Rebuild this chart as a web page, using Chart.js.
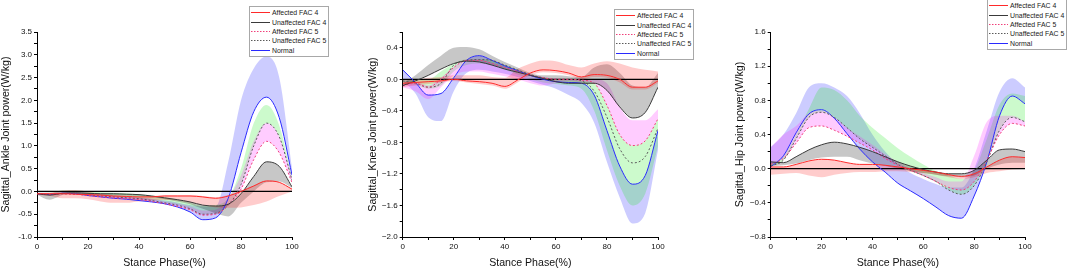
<!DOCTYPE html>
<html>
<head>
<meta charset="utf-8">
<script src="https://cdn.jsdelivr.net/npm/chart.js@4.4.0/dist/chart.umd.min.js"></script>
<style>
  body { margin: 0; background: #fff; width: 1072px; height: 271px; overflow: hidden; position: relative;
         font-family: "Liberation Sans", Arial, sans-serif; }
  canvas { position: absolute; top: 0; }
  .legend { position: absolute; background: #fff; border: 1px solid #a8a8a8; padding: 1px 2px 1px 1px;
            font-size: 6.9px; color: #222; white-space: nowrap; }
  .legend .row { display: flex; align-items: center; height: 9.4px; }
  .legend svg { display: block; margin-right: 2px; }
</style>
</head>
<body>
<canvas id="ankle" width="357" height="271" style="left:0px"></canvas>
<canvas id="knee" width="357" height="271" style="left:357px"></canvas>
<canvas id="hip" width="358" height="271" style="left:714px"></canvas>
<div id="legend-ankle" class="legend" style="left:249px; top:6px"></div>
<div id="legend-knee" class="legend" style="left:614px; top:9px"></div>
<div id="legend-hip" class="legend" style="left:987px; top:-1px"></div>
<script>
// stance phase (%) sample points
const phase = [0, 5, 10, 15, 20, 25, 30, 35, 40, 45, 50, 55, 60, 65, 70, 75, 80, 85, 90, 95, 100];
const seriesNames = ['Affected FAC 4', 'Unaffected FAC 4', 'Affected FAC 5', 'Unaffected FAC 5', 'Normal'];

// ---- ankle (W/kg) ----
const ankAff4     = [-0.05,-0.05,-0.05,-0.06,-0.07,-0.08,-0.1,-0.11,-0.12,-0.12,-0.1,-0.1,-0.1,-0.12,-0.15,-0.1,0.0,0.12,0.23,0.2,0.05];
const ankAff4Lo   = [-0.07,-0.1,-0.15,-0.15,-0.17,-0.22,-0.25,-0.25,-0.22,-0.2,-0.18,-0.2,-0.25,-0.3,-0.35,-0.36,-0.35,-0.3,-0.22,-0.1,0.0];
const ankAff4Hi   = [-0.04,-0.03,0.02,0.03,0.0,-0.05,-0.08,-0.09,-0.1,-0.1,-0.08,-0.08,-0.08,-0.1,-0.13,-0.08,0.02,0.13,0.24,0.21,0.06];
const ankUnaff4   = [-0.05,-0.08,-0.04,-0.03,-0.04,-0.05,-0.05,-0.06,-0.07,-0.1,-0.14,-0.18,-0.23,-0.3,-0.32,-0.28,-0.05,0.33,0.65,0.55,0.1];
const ankUnaff4Lo = [-0.07,-0.18,-0.08,-0.05,-0.06,-0.07,-0.08,-0.09,-0.1,-0.13,-0.17,-0.22,-0.28,-0.38,-0.48,-0.55,-0.25,0.0,0.2,0.22,0.08];
const ankAff5     = [-0.05,-0.07,-0.05,-0.06,-0.09,-0.12,-0.14,-0.16,-0.18,-0.22,-0.27,-0.33,-0.4,-0.52,-0.5,-0.3,0.05,0.7,1.1,0.85,0.2];
const ankAff5Hi   = [-0.03,-0.04,-0.02,-0.03,-0.06,-0.08,-0.1,-0.12,-0.14,-0.17,-0.22,-0.27,-0.33,-0.42,-0.4,-0.15,0.35,1.1,1.5,1.2,0.3];
const ankUnaff5   = [-0.05,-0.07,-0.05,-0.06,-0.08,-0.1,-0.12,-0.14,-0.16,-0.2,-0.25,-0.3,-0.38,-0.5,-0.48,-0.3,0.15,1.0,1.5,1.2,0.25];
const ankUnaff5Hi = [-0.03,-0.03,0.02,0.02,0.0,-0.02,-0.03,-0.04,-0.06,-0.09,-0.12,-0.17,-0.25,-0.32,-0.3,-0.15,0.5,1.5,1.9,1.45,0.3];
const ankNormal   = [-0.05,-0.07,-0.04,-0.05,-0.09,-0.12,-0.15,-0.17,-0.2,-0.23,-0.27,-0.34,-0.45,-0.62,-0.58,-0.15,0.85,1.75,2.07,1.62,0.36];
const ankNormalHi = [-0.03,-0.03,0.0,0.0,-0.03,-0.06,-0.08,-0.1,-0.13,-0.16,-0.2,-0.24,-0.3,-0.33,-0.33,0.65,2.0,2.7,2.96,2.5,0.5];

// ---- knee (W/kg) ----
const kneeAff4     = [-0.05,-0.04,-0.03,-0.02,0.0,-0.02,-0.03,-0.05,-0.09,-0.01,0.08,0.12,0.11,0.08,0.03,0.06,0.05,0.0,-0.1,-0.1,-0.02];
const kneeAff4Lo   = [-0.1,-0.08,-0.06,-0.04,-0.02,-0.04,-0.06,-0.08,-0.12,-0.04,0.05,0.09,0.08,0.05,0.0,0.03,0.02,-0.04,-0.13,-0.13,-0.05];
const kneeAff4Hi   = [0.0,0.0,0.02,0.03,0.05,0.05,0.05,0.03,0.02,0.13,0.2,0.24,0.23,0.18,0.15,0.2,0.23,0.2,0.15,0.12,0.1];
const kneeUnaff4   = [-0.08,-0.02,0.05,0.13,0.2,0.23,0.22,0.18,0.13,0.09,0.05,0.01,-0.03,-0.05,-0.05,-0.05,-0.14,-0.35,-0.49,-0.42,-0.1];
const kneeUnaff4Hi = [-0.05,0.05,0.18,0.3,0.4,0.41,0.38,0.3,0.22,0.15,0.08,0.05,0.05,0.04,0.03,0.15,0.19,0.08,-0.08,-0.1,0.08];
const kneeAff5     = [-0.08,-0.05,-0.1,0.0,0.15,0.24,0.24,0.2,0.15,0.1,0.05,0.02,0.0,0.0,-0.01,-0.05,-0.33,-0.7,-0.84,-0.78,-0.5];
const kneeAff5Lo   = [-0.1,-0.15,-0.25,-0.1,0.05,0.1,0.1,0.07,0.04,0.0,-0.05,-0.08,-0.05,-0.02,-0.03,-0.05,-0.33,-0.7,-0.84,-0.78,-0.5];
const kneeAff5Hi   = [-0.06,-0.03,-0.08,0.02,0.16,0.25,0.25,0.21,0.16,0.11,0.06,0.03,0.01,0.0,-0.01,0.0,-0.05,-0.35,-0.52,-0.52,-0.38];
const kneeUnaff5   = [-0.02,-0.05,-0.1,-0.05,0.18,0.24,0.25,0.24,0.18,0.12,0.06,0.02,0.0,0.0,-0.02,-0.15,-0.48,-0.88,-1.06,-0.98,-0.62];
const kneeUnaff5Lo = [-0.05,-0.07,-0.12,-0.08,0.1,0.18,0.2,0.18,0.12,0.06,0.0,-0.04,-0.06,-0.08,-0.12,-0.4,-0.9,-1.35,-1.6,-1.45,-0.85];
const kneeUnaff5Hi = [0.0,0.0,0.0,0.1,0.2,0.25,0.25,0.24,0.18,0.12,0.06,0.02,0.0,0.0,-0.02,-0.05,-0.33,-0.7,-0.84,-0.78,-0.5];
const kneeNormal   = [0.12,-0.04,-0.2,-0.18,0.02,0.24,0.3,0.24,0.17,0.11,0.05,0.0,-0.03,-0.04,-0.05,-0.2,-0.65,-1.1,-1.33,-1.22,-0.65];
const kneeNormalLo = [-0.02,-0.18,-0.48,-0.53,-0.15,0.08,0.12,0.1,0.07,0.03,-0.02,-0.07,-0.12,-0.2,-0.3,-0.55,-1.05,-1.5,-1.83,-1.7,-0.9];

// ---- hip (W/kg) ----
const hipAff4     = [0.02,0.02,0.05,0.09,0.11,0.1,0.07,0.05,0.05,0.04,0.02,0.0,-0.02,-0.04,-0.07,-0.09,-0.06,0.02,0.1,0.14,0.13];
const hipAff4Lo   = [-0.07,-0.06,-0.05,-0.08,-0.1,-0.07,-0.05,-0.04,-0.04,-0.03,-0.03,-0.04,-0.05,-0.07,-0.1,-0.12,-0.1,-0.05,-0.03,-0.01,0.0];
const hipUnaff4   = [0.08,0.07,0.14,0.22,0.28,0.31,0.29,0.25,0.2,0.14,0.08,0.03,-0.01,-0.04,-0.06,-0.06,-0.02,0.1,0.22,0.23,0.2];
const hipUnaff4Lo = [0.03,0.04,0.06,0.1,0.13,0.14,0.14,0.1,0.06,0.03,0.0,-0.03,-0.05,-0.07,-0.09,-0.1,-0.08,0.0,0.05,0.07,0.07];
const hipAff5     = [0.05,0.12,0.3,0.48,0.5,0.45,0.38,0.3,0.22,0.12,0.04,-0.02,-0.08,-0.15,-0.22,-0.25,-0.15,0.1,0.4,0.53,0.5];
const hipAff5Hi   = [0.25,0.4,0.5,0.65,0.68,0.6,0.48,0.38,0.28,0.17,0.08,0.0,-0.05,-0.1,-0.15,-0.15,0.15,0.55,0.62,0.62,0.55];
const hipUnaff5   = [0.03,0.1,0.35,0.6,0.66,0.6,0.48,0.35,0.25,0.15,0.05,-0.02,-0.08,-0.15,-0.25,-0.3,-0.2,0.08,0.45,0.6,0.55];
const hipUnaff5Hi = [0.05,0.15,0.4,0.7,0.95,0.92,0.8,0.62,0.48,0.36,0.24,0.14,0.05,-0.03,-0.08,-0.12,-0.02,0.35,0.75,0.88,0.85];
const hipNormal   = [0.02,0.15,0.42,0.64,0.69,0.59,0.41,0.23,0.08,-0.04,-0.17,-0.26,-0.35,-0.45,-0.55,-0.58,-0.32,0.08,0.62,0.85,0.76];
const hipNormalHi = [0.25,0.4,0.65,0.95,1.0,0.95,0.85,0.65,0.4,0.2,0.05,-0.05,-0.12,-0.18,-0.22,-0.22,0.0,0.45,0.9,1.06,0.95];

// styles
const lineColors = ['#ff2a2a', '#3a3a3a', '#f0407a', '#5a5a5a', '#2a2aff'];
const lineDashes = [[], [], [2, 2], [2, 2], []];
const bandColors = ['rgba(255,0,0,0.2)', 'rgba(0,0,0,0.22)', 'rgba(255,0,255,0.2)', 'rgba(0,230,0,0.2)', 'rgba(0,0,255,0.2)'];
const FONT = '"Liberation Sans", Arial, sans-serif';

const panels = [
  { id: 'ankle', title: 'Sagittal_Ankle Joint power(W/kg)', min: -1.0, max: 3.5, minor: 0.25, major: 0.5, minus: '-',
    pad: { left: 0, right: 65, top: 32, bottom: 0 }, yWidth: 37,
    lines: [ankAff4, ankUnaff4, ankAff5, ankUnaff5, ankNormal],
    bands: [[ankAff4Lo, ankAff4Hi], [ankUnaff4Lo, ankUnaff4], [ankAff5, ankAff5Hi], [ankUnaff5, ankUnaff5Hi], [ankNormal, ankNormalHi]] },
  { id: 'knee', title: 'Sagittal_Knee Joint power(W/kg)', min: -2.0, max: 0.6, minor: 0.2, major: 0.4, minus: '\u2212',
    pad: { left: 10, right: 56, top: 32, bottom: 0 }, yWidth: 35.7,
    lines: [kneeAff4, kneeUnaff4, kneeAff5, kneeUnaff5, kneeNormal],
    bands: [[kneeAff4Lo, kneeAff4Hi], [kneeUnaff4, kneeUnaff4Hi], [kneeAff5Lo, kneeAff5Hi], [kneeUnaff5Lo, kneeUnaff5Hi], [kneeNormalLo, kneeNormal]] },
  { id: 'hip', title: 'Sagittal_Hip Joint power(W/kg)', min: -0.8, max: 1.6, minor: 0.2, major: 0.4, minus: '\u2212',
    pad: { left: 20, right: 47, top: 32, bottom: 0 }, yWidth: 36.7,
    lines: [hipAff4, hipUnaff4, hipAff5, hipUnaff5, hipNormal],
    bands: [[hipAff4Lo, hipAff4], [hipUnaff4Lo, hipUnaff4], [hipAff5, hipAff5Hi], [hipUnaff5, hipUnaff5Hi], [hipNormal, hipNormalHi]] }
];

function pts(ys) {
  return ys.map((y, i) => ({ x: phase[i], y: y }));
}

function buildDatasets(p) {
  const ds = [];
  p.lines.forEach((ys, k) => {
    ds.push({ data: pts(ys), borderColor: lineColors[k], borderWidth: 1, borderDash: lineDashes[k],
              pointRadius: 0, fill: false, cubicInterpolationMode: 'monotone', order: 0 });
  });
  // y = 0 reference line
  ds.push({ data: phase.map(x => ({ x: x, y: 0 })), borderColor: '#000', borderWidth: 1.2,
            pointRadius: 0, fill: false, order: 1 });
  p.bands.forEach(([lo, hi], k) => {
    const loIndex = ds.length;
    ds.push({ data: pts(lo), borderColor: 'transparent', borderWidth: 0, pointRadius: 0,
              fill: false, cubicInterpolationMode: 'monotone', order: 2 });
    ds.push({ data: pts(hi), borderColor: 'transparent', borderWidth: 0, pointRadius: 0,
              backgroundColor: bandColors[k], fill: loIndex, cubicInterpolationMode: 'monotone', order: 2 });
  });
  return ds;
}

const SVGNS = 'http://www.w3.org/2000/svg';

panels.forEach(p => {
  new Chart(document.getElementById(p.id), {
    type: 'line',
    data: { datasets: buildDatasets(p) },
    options: {
      responsive: false,
      animation: false,
      devicePixelRatio: 1,
      layout: { padding: p.pad },
      plugins: { legend: { display: false }, tooltip: { enabled: false } },
      scales: {
        x: {
          type: 'linear', min: 0, max: 100,
          border: { color: '#000', width: 1 },
          grid: { drawOnChartArea: false, drawTicks: true, tickLength: 3, color: '#000' },
          ticks: { stepSize: 10, autoSkip: false, maxRotation: 0, padding: 2, color: '#111',
                   font: { size: 8, family: FONT },
                   callback: v => (Math.round(v) % 20 === 0 ? String(Math.round(v)) : '') },
          title: { display: true, text: 'Stance Phase(%)', color: '#111',
                   font: { size: 10.6, family: FONT }, padding: { top: 0, bottom: 1.5 } },
          afterFit: s => { s.height = 34; }
        },
        y: {
          type: 'linear', min: p.min, max: p.max,
          border: { color: '#000', width: 1 },
          grid: { drawOnChartArea: false, drawTicks: true, tickLength: 3, color: '#000' },
          ticks: { stepSize: p.minor, autoSkip: false, padding: 2, color: '#111',
                   font: { size: 8, family: FONT },
                   callback: v => {
                     const r = Math.round(v * 100), m = Math.round(p.major * 100);
                     return r % m === 0 ? (r / 100).toFixed(1).replace('-', p.minus) : '';
                   } },
          title: { display: true, text: p.title, color: '#111',
                   font: { size: 10.6, family: FONT }, padding: { top: 0, bottom: 0 } },
          afterFit: s => { s.width = p.yWidth; }
        }
      }
    }
  });

  // legend box (real text, svg line samples)
  const box = document.getElementById('legend-' + p.id);
  seriesNames.forEach((name, k) => {
    const row = document.createElement('div');
    row.className = 'row';
    const svg = document.createElementNS(SVGNS, 'svg');
    svg.setAttribute('width', '19');
    svg.setAttribute('height', '3');
    const ln = document.createElementNS(SVGNS, 'line');
    ln.setAttribute('x1', '0');
    ln.setAttribute('x2', '19');
    ln.setAttribute('y1', '1.5');
    ln.setAttribute('y2', '1.5');
    ln.setAttribute('stroke', lineColors[k]);
    ln.setAttribute('stroke-width', '1');
    if (lineDashes[k].length) ln.setAttribute('stroke-dasharray', '1.5,1.5');
    svg.appendChild(ln);
    const label = document.createElement('span');
    label.textContent = name;
    row.appendChild(svg);
    row.appendChild(label);
    box.appendChild(row);
  });
});
</script>
</body>
</html>
